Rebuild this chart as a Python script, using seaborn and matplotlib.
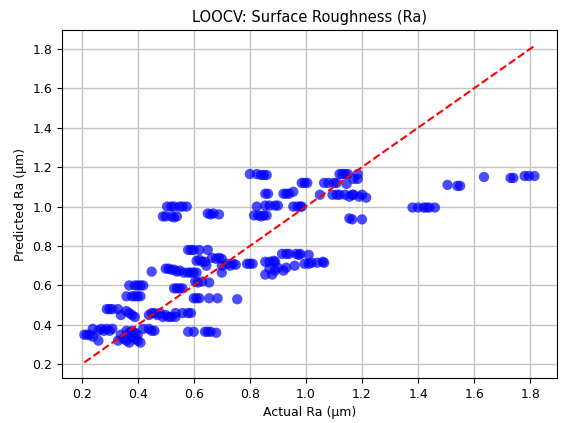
import numpy as np
import pandas as pd
import matplotlib
matplotlib.use('Agg')
import matplotlib.pyplot as plt
import seaborn as sns

# values (actual, predicted)
actual = [
    0.21, 0.22, 0.23, 0.24,
    0.24, 0.26, 0.27, 0.28, 0.29, 0.30, 0.31, 0.26,
    0.29, 0.30, 0.31, 0.33, 0.34,
    0.37, 0.39, 0.40, 0.41, 0.42,
    0.36, 0.38, 0.39, 0.40, 0.41,
    0.36, 0.37, 0.38, 0.39,
    0.33, 0.34, 0.35, 0.36, 0.37, 0.38, 0.38, 0.39, 0.40, 0.41, 0.36, 0.37, 0.39, 0.40,
    0.42, 0.44, 0.45, 0.46,
    0.45,
    0.44, 0.45, 0.46, 0.47, 0.48, 0.49, 0.50, 0.51, 0.52,
    0.50, 0.51, 0.52, 0.53, 0.54, 0.55,
    0.505, 0.52, 0.53, 0.55, 0.56, 0.575,
    0.49, 0.50, 0.52, 0.53, 0.54,
    0.53, 0.54, 0.55, 0.56,
    0.535, 0.56, 0.58, 0.59, 0.535,
    0.565, 0.58, 0.59, 0.60, 0.61,
    0.58, 0.59, 0.60, 0.62, 0.65,
    0.58, 0.60, 0.64, 0.65, 0.66, 0.68,
    0.60, 0.61, 0.62, 0.655, 0.685, 0.755,
    0.61, 0.62, 0.63, 0.64,
    0.605, 0.615, 0.63, 0.655,
    0.645,
    0.65, 0.66, 0.67, 0.69,
    0.665, 0.68, 0.69, 0.70,
    0.70,
    0.70, 0.72, 0.73, 0.74, 0.75,
    0.79, 0.80, 0.81,
    0.80, 0.825, 0.84, 0.85, 0.86,
    0.815, 0.83, 0.84, 0.85, 0.86,
    0.825, 0.855, 0.87, 0.89, 0.90,
    0.855, 0.865,
    0.855, 0.87, 0.885, 0.89,
    0.855, 0.88,
    0.87, 0.89, 0.90, 0.92,
    0.915, 0.93, 0.94, 0.965, 0.975, 0.98, 1.01,
    0.93, 0.96,
    0.92, 0.93, 0.94, 0.955,
    0.955, 0.97, 0.98, 0.985,
    0.985, 0.995, 1.005,
    0.995, 1.01, 1.02, 1.04, 1.06, 1.065,
    1.05,
    1.065, 1.08, 1.10, 1.11,
    1.12, 1.13, 1.14, 1.15, 1.185,
    1.095, 1.11, 1.12, 1.14, 1.165, 1.17, 1.19, 1.20, 1.215,
    1.145, 1.17, 1.185, 1.155,
    1.155, 1.165, 1.20,
    1.38, 1.40, 1.42, 1.43, 1.44, 1.46,
    1.505, 1.54, 1.55,
    1.635,
    1.73, 1.74,
    1.78, 1.795, 1.815,
]
predicted = [
    0.35, 0.35, 0.35, 0.34,
    0.38, 0.37, 0.38, 0.37, 0.38, 0.37, 0.38, 0.32,
    0.48, 0.48, 0.48, 0.48, 0.45,
    0.60, 0.60, 0.60, 0.60, 0.60,
    0.545, 0.545, 0.545, 0.545, 0.545,
    0.47, 0.46, 0.45, 0.44,
    0.32, 0.35, 0.33, 0.37, 0.31, 0.34, 0.37, 0.33, 0.32, 0.31, 0.32, 0.36, 0.36, 0.35,
    0.38, 0.38, 0.37, 0.37,
    0.67,
    0.45, 0.46, 0.46, 0.45, 0.46, 0.44, 0.45, 0.44, 0.44,
    0.685, 0.685, 0.68, 0.68, 0.67, 0.675,
    1.00, 1.00, 1.00, 1.00, 1.00, 1.00,
    0.95, 0.95, 0.95, 0.945, 0.95,
    0.585, 0.585, 0.585, 0.585,
    0.46, 0.46, 0.46, 0.46, 0.44,
    0.665, 0.665, 0.665, 0.665, 0.665,
    0.78, 0.78, 0.78, 0.78, 0.78,
    0.365, 0.365, 0.365, 0.365, 0.365, 0.36,
    0.535, 0.535, 0.535, 0.535, 0.535, 0.53,
    0.725, 0.73, 0.72, 0.72,
    0.62, 0.615, 0.62, 0.615,
    0.70,
    0.965, 0.96, 0.965, 0.96,
    0.74, 0.735, 0.74, 0.735,
    0.665,
    0.70, 0.71, 0.70, 0.71, 0.705,
    0.71, 0.71, 0.71,
    1.165, 1.165, 1.16, 1.16, 1.16,
    0.955, 0.955, 0.95, 0.955, 0.955,
    1.00, 1.005, 1.005, 1.005, 1.005,
    1.065, 1.065,
    0.72, 0.72, 0.725, 0.72,
    0.655, 0.655,
    0.685, 0.675, 0.69, 0.675,
    0.76, 0.76, 0.76, 0.76, 0.755, 0.76, 0.755,
    0.69, 0.70,
    1.065, 1.065, 1.065, 1.075,
    1.00, 1.00, 1.00, 1.00,
    1.12, 1.12, 1.12,
    0.71, 0.71, 0.715, 0.715, 0.72, 0.715,
    1.06,
    1.12, 1.12, 1.12, 1.12,
    1.165, 1.165, 1.165, 1.165, 1.165,
    1.06, 1.06, 1.06, 1.06, 1.06, 1.06, 1.05, 1.06, 1.045,
    1.115, 1.14, 1.14, 1.05,
    0.94, 0.935, 0.935,
    0.995, 0.995, 0.995, 0.995, 0.995, 0.995,
    1.11, 1.105, 1.105,
    1.15,
    1.145, 1.145,
    1.155, 1.155, 1.155,
]

df = pd.DataFrame({'actual': actual, 'predicted': predicted})

plt.rcParams['font.size'] = 9
fig, ax = plt.subplots(figsize=(5.73, 4.23), dpi=100)
fig.subplots_adjust(left=0.108, right=0.972, bottom=0.106, top=0.929)

sns.scatterplot(data=df, x='actual', y='predicted', color='blue', alpha=0.7,
                s=55, edgecolor='none', ax=ax)

lims = [df['actual'].min(), df['actual'].max()]
sns.lineplot(x=lims, y=lims, color='red', linestyle='--', linewidth=1.5, ax=ax)

ax.set_title('LOOCV: Surface Roughness (Ra)', fontsize=10.5)
ax.set_xlabel('Actual Ra (µm)')
ax.set_ylabel('Predicted Ra (µm)')
ax.grid(True, color='#c4c4c4', linewidth=1.0)
ax.set_axisbelow(True)

fig.savefig('out.png', dpi=100, facecolor='white')
